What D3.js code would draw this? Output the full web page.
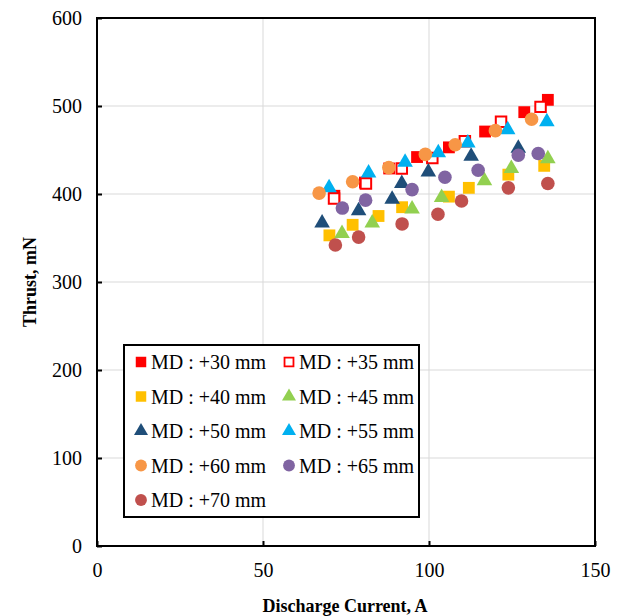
<!DOCTYPE html>
<html><head><meta charset="utf-8">
<script src="https://cdn.jsdelivr.net/npm/d3@7"></script>
<style>body{margin:0;background:#fff}svg{display:block}</style>
</head><body>
<svg id="chart" width="619" height="616"></svg>
<script>
const xTicks = [0, 50, 100, 150];
const yTicks = [0, 100, 200, 300, 400, 500, 600];
const seriesNames = ["MD : +30 mm","MD : +35 mm","MD : +40 mm","MD : +45 mm","MD : +50 mm","MD : +55 mm","MD : +60 mm","MD : +65 mm","MD : +70 mm"];
const md30 = [[71.5,398],[80.7,413],[88.0,429],[96.4,442],[106.0,453],[116.9,471],[128.7,493],[135.8,507]];
const md35 = [[71.4,395],[81.0,412],[91.8,429],[101.0,441],[110.8,460],[121.7,482],[133.6,499]];
const md40 = [[70.0,353],[77.0,365],[84.8,375],[91.9,385],[106.0,397],[112.0,407],[123.9,422],[134.7,432]];
const md45 = [[73.8,355],[82.9,367],[94.9,383],[103.8,396],[116.7,415],[124.8,429],[135.8,440]];
const md50 = [[67.8,367],[78.8,381],[88.9,394],[91.8,412],[99.8,425],[112.7,443],[126.9,452]];
const md55 = [[69.9,407],[81.8,424],[92.8,436],[102.8,447],[111.7,458],[123.7,473],[135.5,482]];
const md60 = [[66.9,401],[77.0,414],[87.9,430],[98.9,445],[107.9,456],[120.0,472],[130.9,485]];
const md65 = [[73.9,384],[80.9,393],[94.9,405],[104.8,419],[114.8,427],[126.9,444],[132.9,446]];
const md70 = [[71.8,342],[78.8,351],[91.9,366],[102.7,377],[109.8,392],[123.9,407],[135.8,412]];

const seriesData = [md30, md35, md40, md45, md50, md55, md60, md65, md70];
const styles = [
  {shape:"square", fill:"#FF0000", stroke:"none"},
  {shape:"square", fill:"#FFFFFF", stroke:"#FF0000"},
  {shape:"square", fill:"#FFC000", stroke:"none"},
  {shape:"triangle", fill:"#92D050", stroke:"none"},
  {shape:"triangle", fill:"#1F4E79", stroke:"none"},
  {shape:"triangle", fill:"#00B0F0", stroke:"none"},
  {shape:"circle", fill:"#F79646", stroke:"none"},
  {shape:"circle", fill:"#8064A2", stroke:"none"},
  {shape:"circle", fill:"#C0504D", stroke:"none"}
];
const symType = {square:d3.symbolSquare, triangle:d3.symbolTriangle, circle:d3.symbolCircle};
const symSize = {square:140, triangle:105, circle:145};

const svg = d3.select("#chart");
const L = 97, R = 595, T = 18, B = 546;
const x = d3.scaleLinear().domain([0,150]).range([L,R]);
const y = d3.scaleLinear().domain([0,600]).range([B,T]);
const font = "'Liberation Serif','Times New Roman',serif";

// gridlines
svg.append("g").selectAll("line.gy").data(yTicks.filter(d=>d>0&&d<600)).join("line")
  .attr("x1",L).attr("x2",R).attr("y1",d=>y(d)).attr("y2",d=>y(d))
  .attr("stroke","#d9d9d9").attr("stroke-width",1);
svg.append("g").selectAll("line.gx").data(xTicks.filter(d=>d>0&&d<150)).join("line")
  .attr("y1",T).attr("y2",B).attr("x1",d=>x(d)).attr("x2",d=>x(d))
  .attr("stroke","#d9d9d9").attr("stroke-width",1);

// axes
const xAxis = svg.append("g").attr("transform",`translate(0,${B})`)
  .call(d3.axisBottom(x).tickValues(xTicks).tickSizeInner(-5).tickSizeOuter(0).tickPadding(17));
const yAxis = svg.append("g").attr("transform",`translate(${L},0)`)
  .call(d3.axisLeft(y).tickValues(yTicks).tickSizeInner(-5).tickSizeOuter(0).tickPadding(15));
[xAxis,yAxis].forEach(a=>{
  a.select(".domain").remove();
  a.selectAll(".tick line").attr("stroke","#000").attr("stroke-width",2);
  a.selectAll(".tick text").attr("font-family",font).attr("font-size",20).attr("fill","#000");
});

// frame
svg.append("rect").attr("x",L).attr("y",T).attr("width",R-L).attr("height",B-T)
  .attr("fill","none").attr("stroke","#000").attr("stroke-width",2);

// points
seriesData.forEach((data,i)=>{
  const st = styles[i];
  svg.append("g").selectAll("path").data(data).join("path")
    .attr("transform",d=>`translate(${x(d[0])},${y(d[1])})`)
    .attr("d",d3.symbol().type(symType[st.shape]).size(st.stroke!=="none"?110:symSize[st.shape]))
    .attr("fill",st.fill)
    .attr("stroke",st.stroke).attr("stroke-width",st.stroke!=="none"?2:0);
});

// legend
const lg = svg.append("g");
lg.append("rect").attr("x",124).attr("y",345).attr("width",295).attr("height",172)
  .attr("fill","#fff").attr("stroke","#000").attr("stroke-width",2);
seriesNames.forEach((name,i)=>{
  const col = i%2, row = Math.floor(i/2);
  const cx = col===0?141:289, cy = 362 + row*34.5;
  const st = styles[i];
  lg.append("path").attr("transform",`translate(${cx},${cy})`)
    .attr("d",d3.symbol().type(symType[st.shape]).size(st.stroke!=="none"?80:(st.shape==="triangle"?85:110)))
    .attr("fill",st.fill).attr("stroke",st.stroke).attr("stroke-width",st.stroke!=="none"?1.8:0);
  lg.append("text").attr("x",cx+10).attr("y",cy+7)
    .attr("font-family",font).attr("font-size",20).text(name);
});

// axis titles
svg.append("text").attr("x",(L+R)/2 - 1).attr("y",612).attr("text-anchor","middle")
  .attr("font-family",font).attr("font-weight","bold").attr("font-size",18).text("Discharge Current, A");
svg.append("text").attr("transform",`translate(36,${(T+B)/2}) rotate(-90)`).attr("text-anchor","middle")
  .attr("font-family",font).attr("font-weight","bold").attr("font-size",18).text("Thrust, mN");
</script>
</body></html>
